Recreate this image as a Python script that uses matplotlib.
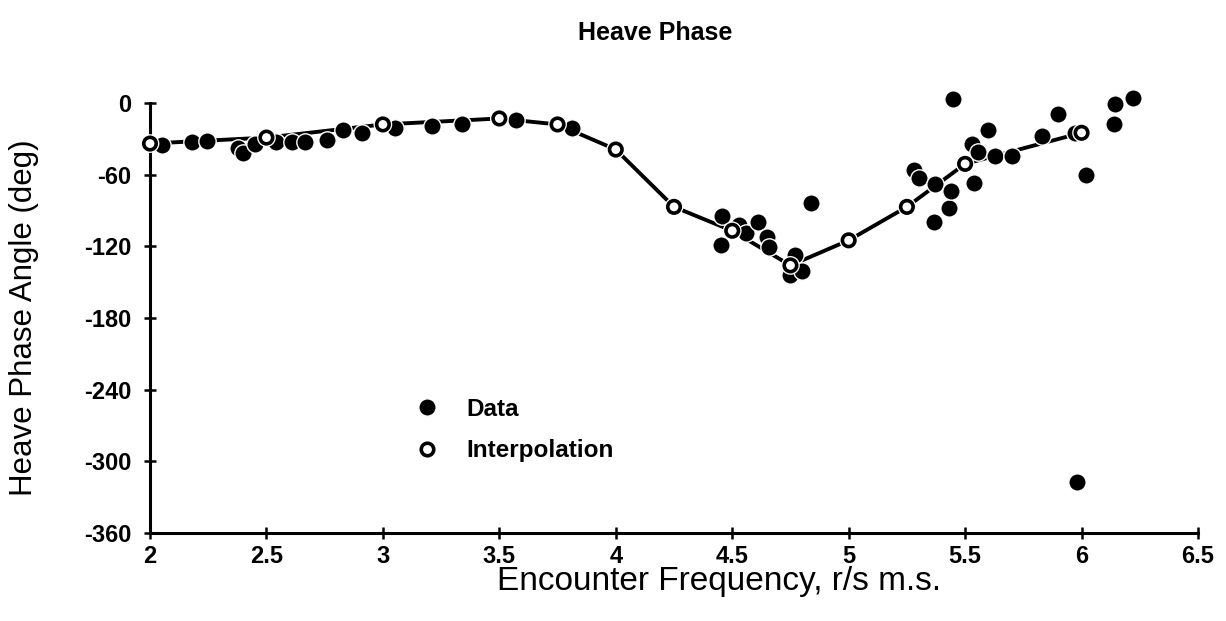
import matplotlib
matplotlib.use("Agg")
import matplotlib.pyplot as plt
import matplotlib.patheffects as pe
from matplotlib.lines import Line2D

# Measured heave phase (filled) and interpolated curve (open)
data_freq = [2.05, 2.18, 2.245, 2.38, 2.40, 2.45, 2.54, 2.61, 2.665, 2.76,
             2.83, 2.91, 3.05, 3.21, 3.34, 3.57, 3.81,
             4.455, 4.45, 4.53, 4.56, 4.61, 4.65, 4.66, 4.77, 4.75, 4.80, 4.84,
             5.28, 5.30, 5.365, 5.37, 5.43, 5.44, 5.45, 5.53, 5.54, 5.555,
             5.60, 5.63, 5.70, 5.83, 5.90, 5.97, 5.98, 6.02, 6.14, 6.145, 6.22]
data_phase = [-35, -33, -32, -38, -42, -34, -33, -33, -33, -31,
              -23, -25, -21, -19, -18, -14, -21,
              -95, -119, -102, -109, -100, -112, -121, -127, -144, -141, -84,
              -56, -63, -100, -68, -88, -74, 3, -34, -67, -41,
              -23, -44, -44, -28, -9, -25, -317, -60, -18, -1, 4]

interp_freq = [2.0, 2.5, 3.0, 3.5, 3.75, 4.0, 4.25, 4.5, 4.75, 5.0, 5.25, 5.5, 6.0]
interp_phase = [-34, -29, -18, -13, -18, -39, -87, -107, -136, -115, -87, -51, -25]

x_ticks = [2, 2.5, 3, 3.5, 4, 4.5, 5, 5.5, 6, 6.5]
x_tick_labels = ["2", "2.5", "3", "3.5", "4", "4.5", "5", "5.5", "6", "6.5"]
y_ticks = [0, -60, -120, -180, -240, -300, -360]

plt.rcParams['font.family'] = ['Liberation Sans', 'DejaVu Sans']
plt.rcParams['axes.unicode_minus'] = False

fig = plt.figure(figsize=(12.26, 6.21), dpi=100)
ax = fig.add_axes([150 / 1226, 88 / 621, 1048 / 1226, 442 / 621])

ax.plot(interp_freq, interp_phase, color='black', lw=2.8, zorder=2,
        solid_capstyle='butt', clip_on=False)
ax.plot(data_freq, data_phase, linestyle='none', marker='o', ms=12.5,
        mfc='black', mec='white', mew=1.0, zorder=3, clip_on=False)
ax.plot(interp_freq, interp_phase, linestyle='none', marker='o', ms=9.0,
        mfc='white', mec='black', mew=2.6, zorder=4, clip_on=False,
        path_effects=[pe.Stroke(linewidth=4.5, foreground='white'), pe.Normal()])

ax.set_xlim(2, 6.5)
ax.set_ylim(-360, 10)
ax.set_xticks(x_ticks)
ax.set_xticklabels(x_tick_labels)
ax.set_yticks(y_ticks)

for side in ('top', 'right'):
    ax.spines[side].set_visible(False)
for side in ('left', 'bottom'):
    ax.spines[side].set_linewidth(2.2)
ax.spines['left'].set_bounds(-360, 0)
ax.spines['bottom'].set_bounds(2, 6.5)

ax.tick_params(direction='inout', length=9, width=1.8, labelsize=17)
ax.tick_params(axis='x', pad=4)
ax.tick_params(axis='y', pad=9)
for lbl in ax.get_xticklabels() + ax.get_yticklabels():
    lbl.set_fontweight('bold')

ax.set_xlabel("Encounter Frequency, r/s m.s.", fontsize=24, va='baseline')
ax.xaxis.set_label_coords(0.543, -0.129)
ax.set_ylabel("Heave Phase Angle (deg)", fontsize=22.5, va='center')
ax.yaxis.set_label_coords(-0.12, 0.4865)

fig.text(655 / 1226, 1 - 33 / 621, "Heave Phase", ha='center', va='center',
         fontsize=18, fontweight='bold')

handles = [
    Line2D([], [], linestyle='none', marker='o', ms=12.5, mfc='black', mec='white', mew=1.0),
    Line2D([], [], linestyle='none', marker='o', ms=9.0, mfc='white', mec='black', mew=2.6),
]
leg = ax.legend(handles, ["Data", "Interpolation"], loc='upper left',
                bbox_to_anchor=(0.232, 0.355), frameon=False, handlelength=1.0,
                handletextpad=1.1, labelspacing=0.75,
                prop={'size': 17.5, 'weight': 'bold'})

fig.savefig("out.png", dpi=100)
